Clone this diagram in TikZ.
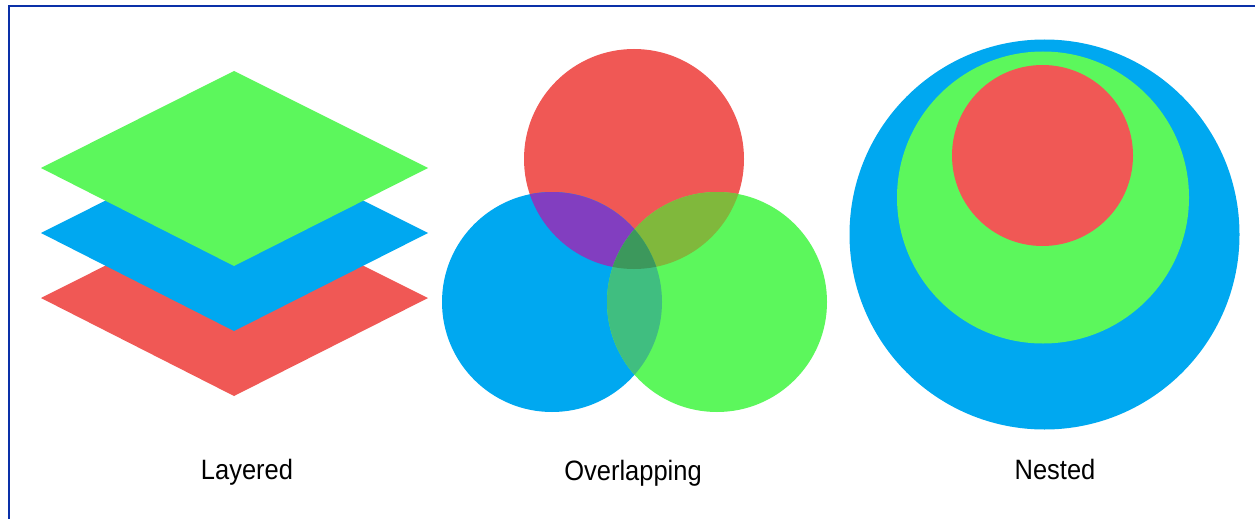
\documentclass[tikz,border=0pt]{standalone}
\usepackage{fontspec}
\newfontfamily\labelfont[FakeStretch=0.91]{Liberation Sans}
\definecolor{cred}{RGB}{240,88,85}
\definecolor{cblue}{RGB}{0,168,240}
\definecolor{cgreen}{RGB}{92,247,92}
\definecolor{cpurple}{RGB}{130,62,192}
\definecolor{colive}{RGB}{128,184,60}
\definecolor{cteal}{RGB}{64,190,128}
\definecolor{cdark}{RGB}{60,152,92}
\definecolor{cframe}{RGB}{10,48,168}
\begin{document}
\begin{tikzpicture}[x=1pt,y=-1pt,
  lbl/.style={font=\labelfont\fontsize{28}{30}\selectfont, anchor=base, text=black, inner sep=0pt}]
\useasboundingbox (0,0) rectangle (1255,519);
\fill[white] (0,0) rectangle (1255,519);
% frame
\draw[cframe, line width=2.4pt] (9,519) -- (9,6) -- (1255,6);
% Layered
\fill[cred]   (41,298) -- (234,201) -- (428,298) -- (234,396) -- cycle;
\fill[cblue]  (41,233) -- (234,136) -- (428,233) -- (234,331) -- cycle;
\fill[cgreen] (41,168) -- (234,71) -- (428,168) -- (234,266) -- cycle;
\node[lbl] (l1) at (247,479) {Layered};
% Overlapping
\def\rr{110}
\coordinate (R) at (634,159);
\coordinate (B) at (552,302);
\coordinate (G) at (717,302);
\fill[cred] (R) circle (\rr);
\fill[cblue] (B) circle (\rr);
\fill[cgreen] (G) circle (\rr);
\begin{scope}
  \clip (R) circle (\rr);
  \fill[cpurple] (B) circle (\rr);
  \fill[colive] (G) circle (\rr);
\end{scope}
\begin{scope}
  \clip (B) circle (\rr);
  \fill[cteal] (G) circle (\rr);
  \clip (G) circle (\rr);
  \fill[cdark] (R) circle (\rr);
\end{scope}
\node[lbl] (l2) at (633,480) {Overlapping};
% Nested
\fill[cblue] (1044.5,234.5) circle (195);
\fill[cgreen] (1043,197.5) circle (146);
\fill[cred] (1042.5,155.5) circle (90.5);
\node[lbl] (l3) at (1055,479) {Nested};
\end{tikzpicture}
\end{document}
